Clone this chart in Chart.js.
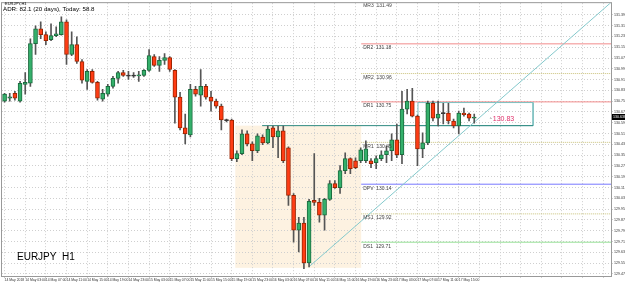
<!DOCTYPE html>
<html>
<head>
<meta charset="utf-8">
<script src="https://cdn.jsdelivr.net/npm/chart.js@4.4.0/dist/chart.umd.min.js"></script>
<style>
  html, body { margin: 0; padding: 0; background: #fff; }
  #wrap { width: 625px; height: 283px; }
</style>
</head>
<body>
<div id="wrap"><canvas id="chart" width="625" height="283"></canvas></div>
<script>
// EURJPY H1 candles
const opens = [130.755,130.777,130.814,130.755,130.880,130.888,131.182,131.292,131.248,131.211,
  131.241,131.248,131.343,131.101,131.174,131.049,130.902,130.976,130.895,130.770,
  130.807,130.865,130.924,130.968,130.946,130.946,130.943,130.946,130.983,131.086,
  131.020,131.057,131.079,130.983,130.785,130.557,130.505,130.843,130.799,130.865,
  130.785,130.755,130.718,130.616,130.616,130.329,130.366,130.513,130.439,130.388,
  130.490,130.446,130.557,130.490,130.535,130.410,130.057,129.799,129.851,129.557,
  130.020,130.005,129.910,130.027,130.145,130.115,130.240,130.329,130.314,130.314,
  130.314,130.314,130.299,130.329,130.358,130.388,130.468,130.358,130.696,130.755,
  130.645,130.402,130.446,130.740,130.630,130.667,130.667,130.608,130.571,130.667,
  130.660,130.630];
const highs = [130.814,130.814,130.829,130.902,130.968,131.218,131.314,131.343,131.270,131.329,
  131.307,131.380,131.358,131.270,131.233,131.064,130.990,130.990,130.902,130.843,
  130.880,130.939,130.976,130.983,130.976,130.968,130.976,130.990,131.138,131.101,
  131.086,131.108,131.086,130.990,130.821,130.660,130.880,130.865,130.990,130.880,
  130.829,130.770,130.733,130.623,130.623,130.388,130.542,130.535,130.454,130.513,
  130.505,130.571,130.571,130.571,130.571,130.417,130.071,129.895,129.895,130.027,
  130.366,130.035,130.035,130.167,130.167,130.277,130.373,130.336,130.336,130.410,
  130.461,130.329,130.351,130.388,130.424,130.513,130.586,130.829,130.843,130.851,
  130.652,130.520,130.755,130.755,130.755,130.740,130.740,130.623,130.682,130.704,
  130.667,130.660];
const lows = [130.748,130.755,130.763,130.748,130.807,130.865,131.101,131.218,131.174,131.204,
  131.233,131.245,131.027,131.093,131.035,130.888,130.843,130.888,130.763,130.755,
  130.792,130.851,130.888,130.939,130.917,130.932,130.902,130.939,130.976,131.013,
  130.976,131.027,130.976,130.593,130.542,130.439,130.490,130.792,130.718,130.770,
  130.682,130.704,130.542,130.601,130.314,130.307,130.358,130.424,130.314,130.373,
  130.432,130.439,130.410,130.336,130.299,129.983,129.711,129.638,129.513,129.527,
  129.983,129.858,129.799,130.020,130.108,130.071,130.218,130.218,130.255,130.299,
  130.299,130.263,130.255,130.314,130.299,130.314,130.336,130.292,130.660,130.638,
  130.277,130.336,130.432,130.608,130.571,130.586,130.586,130.557,130.513,130.645,
  130.608,130.593];
const closes = [130.807,130.788,130.777,130.888,130.895,131.182,131.292,131.248,131.204,131.241,
  131.255,131.343,131.101,131.174,131.049,130.910,130.976,130.895,130.777,130.814,
  130.865,130.924,130.968,130.946,130.943,130.944,130.950,130.983,131.093,131.020,
  131.057,131.079,130.990,130.785,130.557,130.513,130.843,130.807,130.865,130.785,
  130.755,130.718,130.616,130.612,130.329,130.366,130.513,130.439,130.388,130.498,
  130.446,130.549,130.490,130.535,130.314,130.057,129.799,129.851,129.557,130.013,
  130.005,129.910,130.027,130.145,130.115,130.240,130.329,130.255,130.263,130.395,
  130.402,130.292,130.329,130.358,130.388,130.468,130.358,130.696,130.755,130.645,
  130.402,130.446,130.740,130.630,130.660,130.667,130.608,130.571,130.667,130.656,
  130.630,130.638];

// one label every 4 bars
const timeTicks = ['14 May 2018','14 May 03:00','14 May 07:00','14 May 11:00','14 May 15:00',
  '14 May 19:00','14 May 23:00','15 May 03:00','15 May 07:00','15 May 11:00','15 May 15:00',
  '15 May 19:00','15 May 23:00','16 May 03:00','16 May 07:00','16 May 11:00','16 May 15:00',
  '16 May 19:00','16 May 23:00','17 May 03:00','17 May 07:00','17 May 11:00','17 May 15:00'];

const priceTicks = [129.475,129.555,129.635,129.715,129.795,129.875,129.955,130.035,130.115,
  130.195,130.275,130.355,130.435,130.515,130.595,130.675,130.755,130.835,130.915,130.995,
  131.075,131.155,131.235,131.315,131.395];

// pivot levels
const levelNames = ['MR3','DR2','MR2','DR1','MR1','DPV','MS1','DS1'];
const levelValues = [131.49,131.18,130.96,130.75,130.45,130.14,129.92,129.71];

const slotCount = 118;          // bars + empty space on the right
const priceMin = 129.4596, priceMax = 131.4816;

// drawn objects (bar index / price units)
const levelStart = 69.1;
const zone = { from: 44.7, to: 69.1, top: 130.574, bottom: 129.52 };
const baseLine = { from: 49.9, to: 102.4, price: 130.574 };
const box = { from: 80.1, to: 102.4, top: 130.745, bottom: 130.574 };
const trend = { x1: 59.2, y1: 129.535, x2: 117.6, y2: 131.49 };
const target = { x: 94.6, price: 130.62, text: '130.83' };

const levelStyle = {
  M: { color: '#c9c27a', dash: [1, 1] },
  DR: { color: '#f28c8c', dash: [] },
  DP: { color: '#7777ff', dash: [] },
  DS: { color: '#96e096', dash: [] }
};
function styleFor(name) {
  if (name[0] === 'M') return levelStyle.M;
  return levelStyle[name.slice(0, 2)];
}

const upFill = '#34b06b', upEdge = '#1b6b3e';
const dnFill = '#ff3c14', dnEdge = '#9a2400';

const bodies = opens.map((o, i) => {
  const c = closes[i];
  if (Math.abs(c - o) < 0.006) {
    const m = (o + c) / 2;
    return [m - 0.004, m + 0.004];
  }
  return [o, c];
});
const bodyFill = opens.map((o, i) => Math.abs(closes[i] - o) < 0.006 ? '#333' : (closes[i] > o ? upFill : dnFill));
const bodyEdge = opens.map((o, i) => Math.abs(closes[i] - o) < 0.006 ? '#333' : (closes[i] > o ? upEdge : dnEdge));

const levelSets = levelNames.map((n, i) => ({
  type: 'line',
  xAxisID: 'x2',
  data: [{ x: levelStart, y: levelValues[i] }, { x: slotCount - 0.5, y: levelValues[i] }],
  borderColor: styleFor(n).color,
  borderDash: styleFor(n).dash,
  borderWidth: 1,
  pointRadius: 0,
  order: 5
}));

const overlay = {
  id: 'overlay',
  beforeDraw(chart) {
    const { ctx, scales: { x2, y } } = chart;
    ctx.save();
    ctx.fillStyle = '#fff';
    ctx.fillRect(0, 0, chart.width, chart.height);
    const zx0 = x2.getPixelForValue(zone.from), zx1 = x2.getPixelForValue(zone.to);
    const zy0 = y.getPixelForValue(zone.top), zy1 = y.getPixelForValue(zone.bottom);
    ctx.fillStyle = '#fdf2e1';
    ctx.fillRect(zx0, zy0, zx1 - zx0, zy1 - zy0);
    ctx.restore();
  },
  afterDatasetsDraw(chart) {
    const { ctx, chartArea: a, scales: { x2, y } } = chart;
    ctx.save();
    ctx.beginPath();
    ctx.rect(a.left, a.top, a.right - a.left, a.bottom - a.top);
    ctx.clip();
    // level captions
    ctx.font = '5px Arial';
    ctx.fillStyle = '#444';
    ctx.textBaseline = 'middle';
    const lx = x2.getPixelForValue(levelStart) + 2;
    levelNames.forEach((n, i) => {
      ctx.fillText(n + '  ' + levelValues[i].toFixed(2), lx, y.getPixelForValue(levelValues[i]) + 4);
    });
    // target price
    const tx = x2.getPixelForValue(target.x), ty = y.getPixelForValue(target.price);
    ctx.font = '4px Arial';
    ctx.fillStyle = '#555';
    ctx.fillText('^', tx - 3, ty - 1);
    ctx.font = '7px Arial';
    ctx.fillStyle = '#e0306a';
    ctx.fillText(target.text, tx, ty);
    ctx.restore();

    ctx.save();
    // frame
    ctx.strokeStyle = '#999';
    ctx.lineWidth = 1;
    ctx.strokeRect(a.left - 0.5, a.top - 0.5, a.right - a.left + 1, a.bottom - a.top + 1);
    // texts
    ctx.fillStyle = '#000';
    ctx.textBaseline = 'alphabetic';
    ctx.font = '4px Arial';
    ctx.fillText('EURJPY,H1', 5, 5);
    ctx.font = '6.2px Arial';
    ctx.fillText('ADR: 82.1 (20 days), Today: 58.8', 3, 10.5);
    ctx.font = '10px Arial';
    ctx.fillText('EURJPY  H1', 17, 260);
    // last price tag on the axis
    const last = closes[closes.length - 1];
    const py = y.getPixelForValue(last);
    ctx.fillStyle = '#000';
    ctx.fillRect(a.right + 1, py - 3, 14, 6);
    ctx.fillStyle = '#fff';
    ctx.font = '3.6px Arial';
    ctx.textBaseline = 'middle';
    ctx.fillText(last.toFixed(3), a.right + 2, py);
    ctx.restore();
  }
};

new Chart(document.getElementById('chart'), {
  type: 'bar',
  data: {
    labels: Array.from({ length: slotCount }, (_, i) => i),
    datasets: [
      {
        data: bodies,
        backgroundColor: bodyFill,
        borderColor: bodyEdge,
        borderWidth: 1,
        borderSkipped: false,
        barThickness: 4,
        grouped: false,
        order: 1
      },
      {
        data: lows.map((l, i) => [l, highs[i]]),
        backgroundColor: '#555',
        barThickness: 1,
        grouped: false,
        order: 2
      },
      {
        type: 'line',
        xAxisID: 'x2',
        data: [{ x: trend.x1, y: trend.y1 }, { x: trend.x2, y: trend.y2 }],
        borderColor: '#84c9cc',
        borderWidth: 1,
        pointRadius: 0,
        order: 3
      },
      {
        type: 'line',
        xAxisID: 'x2',
        data: [{ x: baseLine.from, y: baseLine.price }, { x: baseLine.to, y: baseLine.price }],
        borderColor: '#2e8a80',
        borderWidth: 1,
        pointRadius: 0,
        order: 4
      },
      {
        type: 'line',
        xAxisID: 'x2',
        data: [{ x: box.from, y: box.top }, { x: box.to, y: box.top }, { x: box.to, y: box.bottom },
               { x: box.from, y: box.bottom }, { x: box.from, y: box.top }],
        borderColor: '#7cc0c0',
        borderWidth: 1,
        pointRadius: 0,
        order: 4
      },
      ...levelSets
    ]
  },
  options: {
    responsive: false,
    animation: false,
    layout: { padding: { left: 2, top: 1, right: 0, bottom: 0 } },
    plugins: { legend: { display: false }, tooltip: { enabled: false } },
    scales: {
      x: {
        type: 'category',
        offset: true,
        grid: { offset: false, color: '#cfcfcf', tickLength: 2 },
        border: { display: false, dash: [1, 2] },
        afterBuildTicks: s => { s.ticks = s.ticks.filter(t => t.value % 4 === 0); },
        afterFit: s => { s.height = 7; },
        ticks: {
          autoSkip: false,
          maxRotation: 0,
          align: 'start',
          padding: 0,
          color: '#333',
          font: { size: 3.4, family: 'Arial' },
          callback: v => timeTicks[v / 4] || ''
        }
      },
      x2: {
        type: 'linear',
        axis: 'x',
        display: false,
        offset: false,
        min: -0.5,
        max: slotCount - 0.5
      },
      y: {
        type: 'linear',
        position: 'right',
        min: priceMin,
        max: priceMax,
        grid: { color: '#cfcfcf', tickLength: 2 },
        border: { display: false, dash: [1, 2] },
        afterBuildTicks: s => { s.ticks = priceTicks.map(v => ({ value: v })); },
        afterFit: s => { s.width = 14; },
        ticks: {
          padding: 1,
          color: '#333',
          font: { size: 3.6, family: 'Arial' },
          callback: v => v.toFixed(3)
        }
      }
    }
  },
  plugins: [overlay]
});
</script>
</body>
</html>
